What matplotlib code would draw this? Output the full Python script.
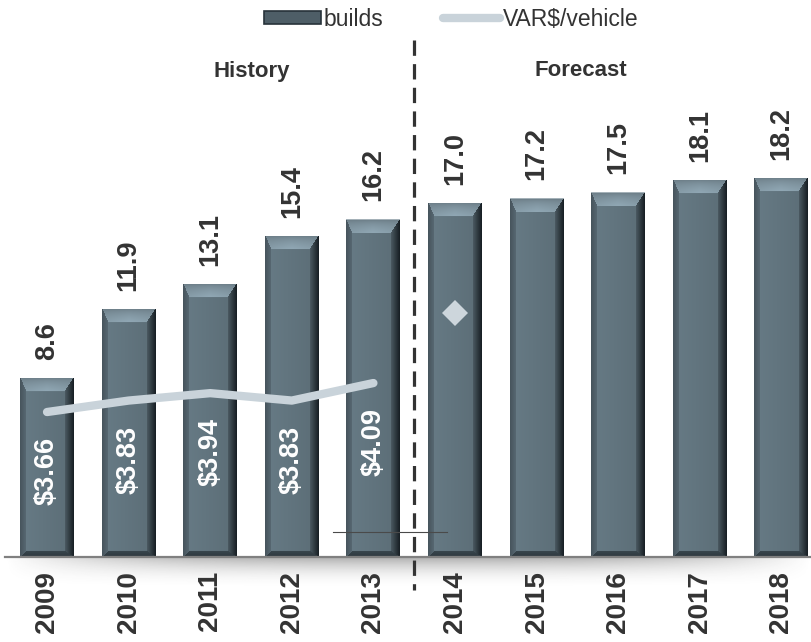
import matplotlib
matplotlib.use("Agg")
import matplotlib.pyplot as plt
from matplotlib.patches import Patch
from matplotlib.lines import Line2D
import numpy as np

plt.rcParams['font.family'] = ['Liberation Sans', 'DejaVu Sans']

# builds per year (history 2009-2013, forecast 2014-2018)
years = ['2009', '2010', '2011', '2012', '2013', '2014', '2015', '2016', '2017', '2018']
builds = [8.6, 11.9, 13.1, 15.4, 16.2, 17.0, 17.2, 17.5, 18.1, 18.2]

# VAR$ per vehicle, history part carries labels
var_years = [0, 1, 2, 3, 4]
var_per_vehicle = [3.66, 3.83, 3.94, 3.83, 4.09]
var_forecast_year = 5
var_forecast = 5.13

TXT = '#333333'
W, H = 811, 642

fig = plt.figure(figsize=(W / 100, H / 100), dpi=100)
ax = fig.add_axes([5 / W, (H - 557) / H, (W - 5) / W, (557 - 30) / H])
ax.set_xlim(-0.515, 9.363)
ax.set_ylim(0, 25.28)


def bevel_texture(w, h):
    """RGB image of a bevelled bar, w x h pixels, row 0 at the top."""
    w, h = max(int(round(w)), 2), max(int(round(h)), 2)
    yy, xx = np.mgrid[0:h, 0:w].astype(float)
    t = xx / (w - 1)
    face = np.array([98, 117, 127]) / 255
    img = face * (1.05 - 0.12 * t)[..., None]
    img = np.broadcast_to(img, (h, w, 3)).copy()
    top, left, right, bot = 14.0, 6.0, 9.0, 6.0
    d = np.stack([yy / top, xx / left, (w - 1 - xx) / right, (h - 1 - yy) / bot])
    edge = np.argmin(d, axis=0)
    inside = d.min(axis=0) < 1
    # top bevel: brighter towards the middle of the bar
    m = inside & (edge == 0)
    glow = 1 - np.abs(t[m] - 0.5) * 0.5
    img[m] = np.clip(np.array([112, 130, 140]) / 255 * (0.9 + 0.4 * glow * d[0][m] ** 0.5)[:, None], 0, 1)
    # left bevel
    m = inside & (edge == 1)
    img[m] = np.array([84, 100, 110]) / 255 * (0.85 + 0.2 * d[1][m])[:, None]
    # right bevel fades into a dark rim
    m = inside & (edge == 2)
    k = d[2][m][:, None]
    img[m] = np.array([24, 32, 37]) / 255 * (1 - k) + face * 0.8 * k
    # bottom bevel
    m = inside & (edge == 3)
    img[m] = np.array([52, 64, 71]) / 255 * (0.9 + 0.2 * d[3][m])[:, None]
    img[0, :] = np.array([165, 178, 185]) / 255
    return img


bars = ax.bar(range(len(builds)), builds, width=0.66, color='none', edgecolor='none', zorder=2)
px_per_x = ax.transData.transform((1, 0))[0] - ax.transData.transform((0, 0))[0]
px_per_y = ax.transData.transform((0, 1))[1] - ax.transData.transform((0, 0))[1]
for b in bars:
    x0, w, h = b.get_x(), b.get_width(), b.get_height()
    im = ax.imshow(bevel_texture(w * px_per_x, h * px_per_y), extent=(x0, x0 + w, 0, h),
                   aspect='auto', interpolation='bilinear', zorder=2)
    im.set_clip_path(b)

for i, v in enumerate(builds):
    ax.annotate(f'{v:.1f}', (i, v), xytext=(0, 13), textcoords='offset points',
                ha='center', va='bottom', rotation=90, fontsize=19.5,
                fontweight='bold', color=TXT)

# soft shadow below the base line
ny, nx = 40, 400
vy = np.linspace(0, 1, ny)[:, None]
vx = np.linspace(-1, 1, nx)[None, :]
alpha = 0.42 * (1 - vy) ** 2.2 * np.clip(1 - np.abs(vx) ** 3, 0, 1)
shadow = np.zeros((ny, nx, 4))
shadow[..., :3] = 0.2
shadow[..., 3] = alpha
ax.imshow(shadow, extent=(-0.52, 9.36, -1.6, 0), aspect='auto', zorder=1, clip_on=False)
ax.set_ylim(0, 25.28)
ax.set_xlim(-0.515, 9.363)

for s in ['top', 'left', 'right']:
    ax.spines[s].set_visible(False)
ax.spines['bottom'].set_color('#808080')
ax.spines['bottom'].set_linewidth(1.6)
ax.spines['bottom'].set_zorder(3)
ax.set_yticks([])
ax.set_xticks(range(len(years)))
ax.set_xticklabels(years, rotation=90, fontsize=20, fontweight='bold', color=TXT)
ax.tick_params(axis='x', length=0, pad=10)

# divider between history and forecast
ax.plot([4.5, 4.5], [24.8, -1.6], color='#333333', lw=2.3, dashes=(4.8, 2.6),
        clip_on=False, zorder=4)

ax2 = ax.twinx()
ax2.set_ylim(1.509, 9.328)
ax2.set_yticks([])
for s in ax2.spines.values():
    s.set_visible(False)

ax2.plot(var_years, var_per_vehicle, color='#c9d3da', lw=6, solid_capstyle='round',
         solid_joinstyle='round', zorder=5)
ax2.plot([var_forecast_year], [var_forecast], marker='D', markersize=13, mew=0,
         color='#cdd6dc', ls='none', zorder=5)
for x, v in zip(var_years, var_per_vehicle):
    ax2.annotate(f'${v:.2f}', (x, v), xytext=(0, -18), textcoords='offset points',
                 ha='center', va='top', rotation=90, fontsize=19.5,
                 fontweight='bold', color='white', zorder=6)
ax2.plot([3.505, 4.9], [1.509 + 25 / 67.4] * 2, color='#4a4a4a', lw=0.8, zorder=5)

fig.text(252 / W, 1 - 71 / H, 'History', ha='center', va='center',
         fontsize=16, fontweight='bold', color=TXT)
fig.text(581 / W, 1 - 71 / H, 'Forecast', ha='center', va='center',
         fontsize=16, fontweight='bold', color=TXT)

handles = [Patch(facecolor='#4e5e67', edgecolor='#27323a', linewidth=1.2),
           Line2D([], [], color='#c9d3da', lw=6, solid_capstyle='round')]
fig.legend(handles, ['builds', 'VAR$/vehicle'], loc='center',
           bbox_to_anchor=(451 / W, 1 - 19 / H), ncol=2, frameon=False,
           fontsize=16.5, handlelength=2.5, handleheight=0.5,
           handletextpad=0.1, columnspacing=2.6, labelcolor=TXT)

fig.savefig('out.png', dpi=100)
